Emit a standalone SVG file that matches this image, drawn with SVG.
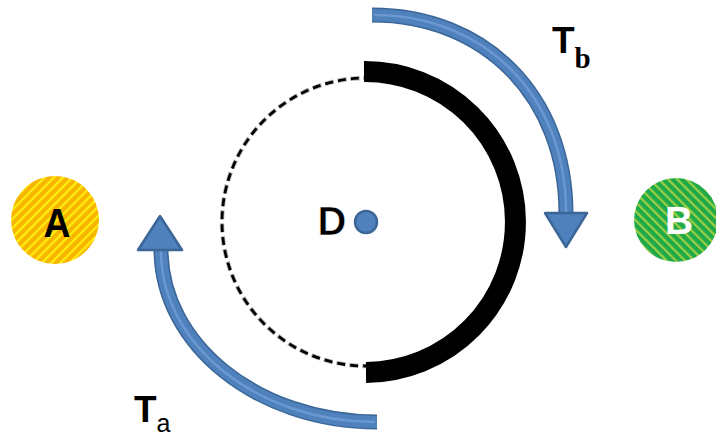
<svg xmlns="http://www.w3.org/2000/svg" width="716" height="438" viewBox="0 0 716 438">
  <defs>
    <pattern id="stripeA" width="6.5" height="6.5" patternUnits="userSpaceOnUse" patternTransform="rotate(45)">
      <rect width="6.5" height="6.5" fill="#f7b500"/>
      <rect x="0" y="0" width="2.2" height="6.5" fill="#ffee10"/>
    </pattern>
    <pattern id="stripeB" width="6.5" height="6.5" patternUnits="userSpaceOnUse" patternTransform="rotate(-45)">
      <rect width="6.5" height="6.5" fill="#1faa4a"/>
      <rect x="0" y="0" width="2.2" height="6.5" fill="#9ccf45"/>
    </pattern>
  </defs>
  <style>
    .lbl { font-family: "Liberation Sans", Arial, sans-serif; font-weight: bold; }
    .sub { font-family: "Liberation Serif", "Times New Roman", serif; font-weight: bold; }
    .shaft-out { fill: none; stroke: #3b6696; stroke-width: 15; stroke-linecap: butt; }
    .shaft-in { fill: none; stroke: #4f81bd; stroke-width: 12; stroke-linecap: butt; }
    .shaft-hi { fill: none; stroke: #6b98d0; stroke-width: 2.5; }
    .head { fill: #4f81bd; stroke: #3b6696; stroke-width: 2.5; stroke-linejoin: round; }
  </style>
  <rect width="716" height="438" fill="#ffffff"/>

  <g id="ring">
    <circle cx="366" cy="222" r="144" fill="none" stroke="#bbbbbb" stroke-width="4.5" stroke-dasharray="9 4"/>
    <circle cx="366" cy="222" r="144" fill="none" stroke="#000000" stroke-width="2.8" stroke-dasharray="8 5"/>
    <path d="M364,71.5 A150.5,150.5 0 0 1 366,372.5" fill="none" stroke="#000000" stroke-width="21"/>
  </g>

  <g id="connectors">
    <g id="arrow-Tb">
      <path class="shaft-out" d="M372,15 C485,15 566,96 566,214"/>
      <path class="shaft-in" d="M372,15 C485,15 566,96 566,214"/>
      <path class="shaft-hi" d="M374,15 C485,15 566,96 566,212"/>
      <polygon class="head" points="545,213 587,213 566,247"/>
    </g>
    <g id="arrow-Ta">
      <path class="shaft-out" d="M377,422 C258,422 161,345 161,249"/>
      <path class="shaft-in" d="M377,422 C258,422 161,345 161,249"/>
      <path class="shaft-hi" d="M375,422 C258,422 161,345 161,251"/>
      <polygon class="head" points="138,250 182,250 160,216"/>
    </g>
  </g>

  <g id="node-A">
    <circle cx="55" cy="220" r="44" fill="url(#stripeA)"/>
    <text class="lbl" x="57" y="237" font-size="40" text-anchor="middle" fill="#000000" textLength="27" lengthAdjust="spacingAndGlyphs">A</text>
  </g>

  <g id="node-B">
    <circle cx="676" cy="220" r="42" fill="url(#stripeB)"/>
    <text class="lbl" x="679" y="234" font-size="39" text-anchor="middle" fill="#ffffff">B</text>
  </g>

  <g id="node-D">
    <text class="lbl" x="332" y="235" font-size="40" text-anchor="middle" fill="#000000" stroke="#ffffff" stroke-width="0.6">D</text>
    <circle cx="366" cy="222" r="11" fill="#4f81bd" stroke="#3b6696" stroke-width="2.5"/>
  </g>

  <g id="label-Tb">
    <text x="552" y="53"><tspan class="lbl" font-size="37">T</tspan><tspan class="sub" font-size="29" dy="15">b</tspan></text>
  </g>
  <g id="label-Ta">
    <text x="134" y="422"><tspan class="lbl" font-size="37">T</tspan><tspan class="lbl" font-size="25" dy="10" style="font-weight:normal">a</tspan></text>
  </g>
</svg>
